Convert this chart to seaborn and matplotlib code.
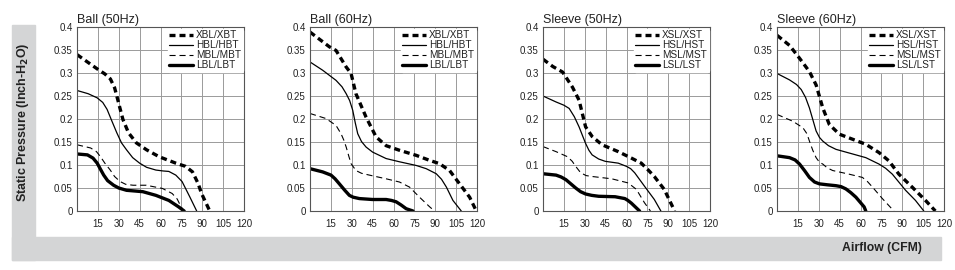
import matplotlib
matplotlib.use("Agg")
import matplotlib.pyplot as plt
from matplotlib.patches import Rectangle
from matplotlib.ticker import FuncFormatter
import seaborn as sns
import pandas as pd

# Fan curves: airflow (CFM) vs static pressure (inch H2O)
titles = ["Ball (50Hz)", "Ball (60Hz)", "Sleeve (50Hz)", "Sleeve (60Hz)"]
labels_ball = ["XBL/XBT", "HBL/HBT", "MBL/MBT", "LBL/LBT"]
labels_sleeve = ["XSL/XST", "HSL/HST", "MSL/MST", "LSL/LST"]

# Ball 50Hz
b50_x_x = [0, 7, 14.5, 20, 24, 27, 28.6, 31, 33, 37, 42.7, 50, 59, 71, 78, 83, 87, 89.5, 95.4]
b50_x_y = [0.34, 0.325, 0.309, 0.298, 0.287, 0.268, 0.25, 0.222, 0.199, 0.17, 0.148, 0.133, 0.118, 0.104, 0.097, 0.085, 0.06, 0.038, 0]
b50_h_x = [0, 8, 14.5, 18.5, 21.6, 25, 28.6, 32, 35.6, 40, 45, 50, 56.7, 62, 66, 71, 75.5, 81, 86]
b50_h_y = [0.262, 0.255, 0.246, 0.236, 0.221, 0.196, 0.17, 0.148, 0.133, 0.116, 0.104, 0.095, 0.089, 0.087, 0.086, 0.078, 0.064, 0.031, 0]
b50_m_x = [0, 9.8, 14, 16.9, 20, 23.9, 27, 31, 35, 40.3, 49.7, 61.4, 68.4, 72, 74.3, 76.6]
b50_m_y = [0.144, 0.137, 0.129, 0.118, 0.104, 0.089, 0.075, 0.064, 0.058, 0.056, 0.056, 0.049, 0.038, 0.026, 0.012, 0]
b50_l_x = [0, 7.5, 11.5, 14.5, 17, 19.2, 22, 26.3, 30, 35.6, 47.3, 56.7, 66, 73, 77]
b50_l_y = [0.124, 0.122, 0.115, 0.104, 0.09, 0.078, 0.066, 0.056, 0.05, 0.045, 0.042, 0.034, 0.023, 0.009, 0]

# Ball 60Hz
b60_x_x = [0, 13.9, 18.7, 26, 29.5, 33, 40.3, 47.5, 54.7, 64.3, 76.3, 86, 93, 100.3, 107.5, 114.7, 119.5]
b60_x_y = [0.389, 0.357, 0.349, 0.313, 0.299, 0.255, 0.204, 0.161, 0.142, 0.132, 0.121, 0.11, 0.103, 0.088, 0.059, 0.03, 0]
b60_h_x = [0, 9.1, 18.7, 23, 26, 28.5, 30.7, 32.5, 34.3, 37, 40.3, 45, 54.7, 64.3, 76.3, 83.5, 90.7, 94.5, 98, 102.7, 108.7]
b60_h_y = [0.324, 0.306, 0.284, 0.27, 0.255, 0.24, 0.219, 0.192, 0.168, 0.151, 0.139, 0.128, 0.114, 0.107, 0.099, 0.092, 0.081, 0.069, 0.052, 0.023, 0]
b60_m_x = [0, 11.5, 18.7, 22.3, 24.3, 26, 28, 29.5, 33, 37, 42.7, 54.7, 64.3, 71.5, 78.7, 86, 89.5]
b60_m_y = [0.212, 0.201, 0.186, 0.168, 0.154, 0.139, 0.118, 0.103, 0.088, 0.082, 0.078, 0.07, 0.063, 0.052, 0.03, 0.009, 0]
b60_l_x = [0, 9.1, 15.1, 18, 21.1, 25, 28.3, 31, 35.5, 45, 54.7, 58.5, 61.9, 65.5, 69.1, 74]
b60_l_y = [0.092, 0.085, 0.078, 0.07, 0.059, 0.045, 0.034, 0.03, 0.027, 0.025, 0.025, 0.023, 0.02, 0.013, 0.005, 0]

# Sleeve 50Hz
s50_x_x = [0, 7.1, 14.1, 21.2, 25.9, 30.6, 35.3, 42.4, 54.1, 63.5, 70.6, 75.3, 80, 87.1, 94.6]
s50_x_y = [0.33, 0.314, 0.302, 0.269, 0.241, 0.183, 0.162, 0.144, 0.129, 0.115, 0.104, 0.09, 0.075, 0.047, 0]
s50_h_x = [0, 9.4, 15, 18.8, 22.5, 25.9, 28.5, 30.6, 33, 35.3, 40, 44.7, 54.1, 60, 63, 65.9, 72.9, 80, 84.7]
s50_h_y = [0.25, 0.237, 0.23, 0.223, 0.205, 0.183, 0.163, 0.147, 0.132, 0.122, 0.113, 0.108, 0.104, 0.097, 0.092, 0.083, 0.054, 0.025, 0]
s50_m_x = [0, 9.4, 17.6, 21, 23.5, 27.1, 31, 35.3, 49.4, 61.2, 67.1, 72.9, 77.2]
s50_m_y = [0.14, 0.129, 0.118, 0.108, 0.097, 0.083, 0.077, 0.075, 0.07, 0.061, 0.047, 0.018, 0]
s50_l_x = [0, 9.4, 13, 16.5, 20, 23.5, 27, 30.6, 35, 40, 51.8, 58.8, 61, 63.5, 69.4]
s50_l_y = [0.081, 0.078, 0.074, 0.068, 0.059, 0.05, 0.042, 0.037, 0.034, 0.032, 0.031, 0.027, 0.023, 0.017, 0]

# Sleeve 60Hz
s60_x_x = [0, 9, 16.2, 23.3, 28.1, 32.9, 37.6, 44.8, 54.3, 63.8, 73.3, 80.4, 87.6, 97.1, 106.7, 113.8]
s60_x_y = [0.382, 0.36, 0.332, 0.303, 0.274, 0.224, 0.188, 0.167, 0.156, 0.145, 0.127, 0.109, 0.08, 0.052, 0.023, 0]
s60_h_x = [0, 9, 14, 17.4, 20.5, 23.3, 25.8, 28.1, 30.5, 32.9, 37, 42.4, 54.3, 63.8, 73.3, 78, 82.9, 92.4, 99.5, 105.5]
s60_h_y = [0.299, 0.285, 0.275, 0.264, 0.247, 0.224, 0.198, 0.174, 0.16, 0.152, 0.142, 0.134, 0.124, 0.116, 0.102, 0.093, 0.08, 0.045, 0.023, 0]
s60_m_x = [0, 11.4, 18.6, 21.5, 23.3, 25.7, 28.1, 30.5, 32.9, 36, 40, 51.9, 61.4, 65, 68.6, 75.7, 84]
s60_m_y = [0.21, 0.195, 0.181, 0.168, 0.152, 0.132, 0.116, 0.106, 0.102, 0.094, 0.088, 0.08, 0.073, 0.064, 0.052, 0.027, 0]
s60_l_x = [0, 9, 13, 16.2, 20, 23.3, 27, 30.5, 36, 42.4, 46, 49.5, 53, 56.7, 62.6, 63.8]
s60_l_y = [0.12, 0.116, 0.111, 0.102, 0.087, 0.073, 0.063, 0.059, 0.057, 0.055, 0.053, 0.048, 0.04, 0.03, 0.009, 0]

panels = [
    (titles[0], labels_ball, [(b50_x_x, b50_x_y), (b50_h_x, b50_h_y), (b50_m_x, b50_m_y), (b50_l_x, b50_l_y)]),
    (titles[1], labels_ball, [(b60_x_x, b60_x_y), (b60_h_x, b60_h_y), (b60_m_x, b60_m_y), (b60_l_x, b60_l_y)]),
    (titles[2], labels_sleeve, [(s50_x_x, s50_x_y), (s50_h_x, s50_h_y), (s50_m_x, s50_m_y), (s50_l_x, s50_l_y)]),
    (titles[3], labels_sleeve, [(s60_x_x, s60_x_y), (s60_h_x, s60_h_y), (s60_m_x, s60_m_y), (s60_l_x, s60_l_y)]),
]

# line style per series: X thick dashed, H thin solid, M thin dashed, L thick solid
styles = [
    dict(lw=2.4, linestyle=(0, (1.8, 1.2))),
    dict(lw=0.9, linestyle="-"),
    dict(lw=0.8, linestyle=(0, (5.5, 3.5))),
    dict(lw=2.4, linestyle="-"),
]

sns.set_theme(style="white")
plt.rcParams["font.family"] = ["Liberation Sans", "DejaVu Sans"]

W, H = 955, 270
fig = plt.figure(figsize=(W / 100, H / 100), dpi=100)

# gray L-shaped band behind the labels
gray = "#d4d5d6"
fig.patches.append(Rectangle((12 / W, 1 - 260 / H), 23 / W, (260 - 25) / H,
                             transform=fig.transFigure, color=gray, zorder=0))
fig.patches.append(Rectangle((12 / W, 1 - 260 / H), (941 - 12) / W, 23 / H,
                             transform=fig.transFigure, color=gray, zorder=0))

lefts = [77, 310, 543, 777]
ax_w, top, bottom = 167, 27, 211

fmt = FuncFormatter(lambda v, p: "0" if v == 0 else ("%.2f" % v).rstrip("0"))

for left, (title, names, series) in zip(lefts, panels):
    ax = fig.add_axes([left / W, 1 - bottom / H, ax_w / W, (bottom - top) / H])
    for (xs, ys), name, st in zip(series, names, styles):
        df = pd.DataFrame({"cfm": xs, "pressure": ys})
        sns.lineplot(data=df, x="cfm", y="pressure", ax=ax, color="black",
                     sort=False, estimator=None, label=name, **st)
    ax.set_xlim(0, 120)
    ax.set_ylim(0, 0.4)
    ax.set_xticks(range(15, 121, 15))
    ax.set_yticks([i * 0.05 for i in range(9)])
    ax.yaxis.set_major_formatter(fmt)
    ax.grid(True, color="#9a9a9a", lw=0.7)
    ax.tick_params(length=0, labelsize=7, colors="#222222", pad=3)
    ax.tick_params(axis="x", pad=6)
    for sp in ax.spines.values():
        sp.set_color("#555555")
        sp.set_linewidth(0.8)
    ax.set_xlabel("")
    ax.set_ylabel("")
    ax.set_title(title, loc="left", fontsize=9, pad=3, color="#222222")
    leg = ax.legend(loc="upper right", frameon=True, fontsize=7.2, handlelength=2.4,
                    labelspacing=0.0, handletextpad=0.3, borderpad=0.15,
                    borderaxespad=0.15, facecolor="white", edgecolor="white",
                    framealpha=1)
    for t in leg.get_texts():
        t.set_color("#222222")

fig.text(23 / W, 1 - 122 / H, r"Static Pressure (Inch-H$_\mathbf{2}$O)", rotation=90,
         ha="center", va="center", fontsize=9, fontweight="bold", color="#222222")
fig.text(922 / W, 1 - 248 / H, "Airflow (CFM)", ha="right", va="center",
         fontsize=8.8, fontweight="bold", color="#222222")

fig.savefig("out.png", dpi=100)
